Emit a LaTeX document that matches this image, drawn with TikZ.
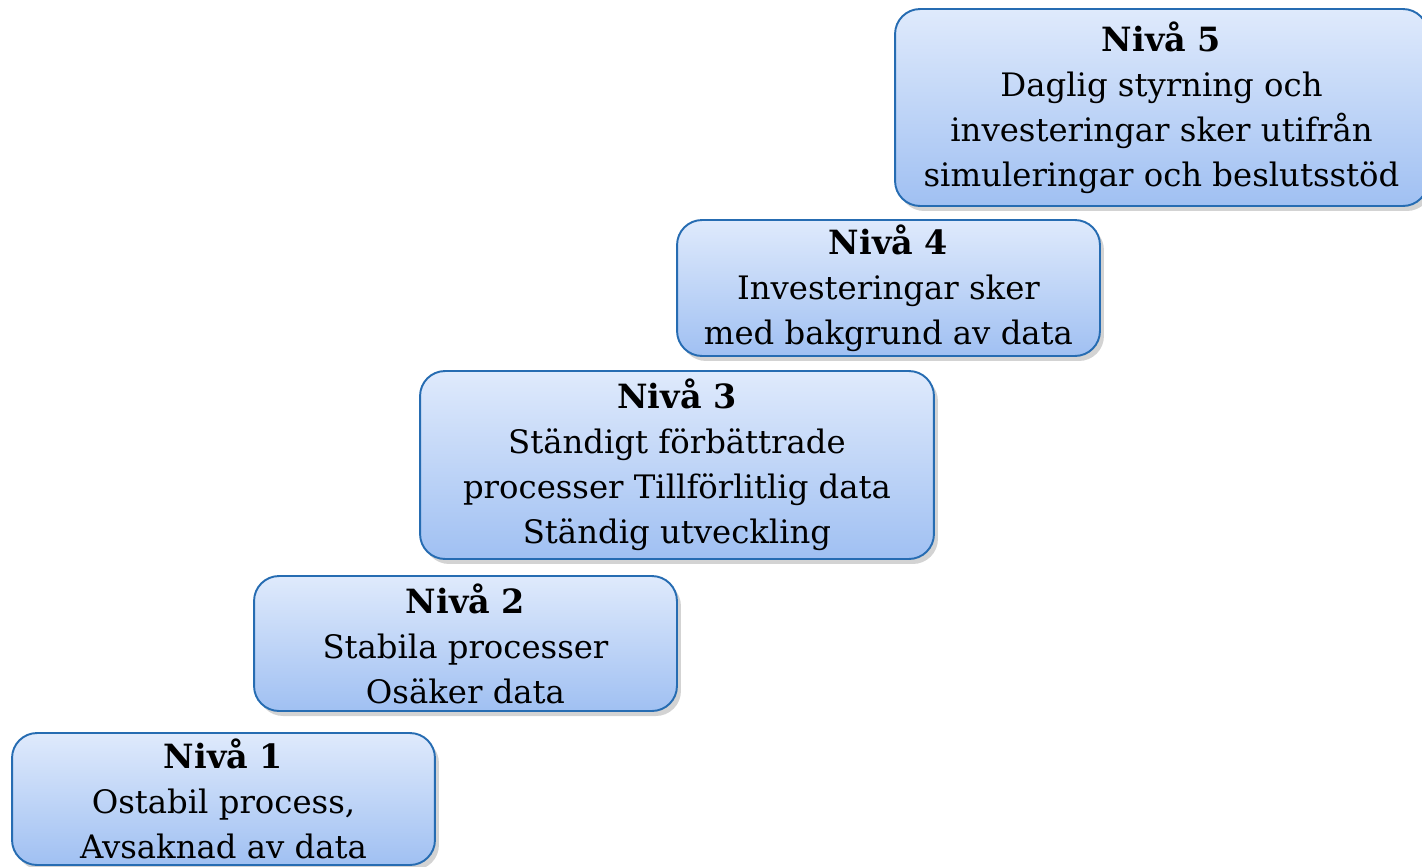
\documentclass[tikz,border=0pt]{standalone}
\usepackage{fontspec}
\setmainfont{DejaVu Serif}
\usetikzlibrary{shadows}
\definecolor{stegtopp}{RGB}{223,234,252}
\definecolor{stegbotten}{RGB}{160,192,242}
\definecolor{stegkant}{RGB}{38,108,178}
\tikzset{
  steg/.style={draw=stegkant, line width=1.1pt, rounded corners=0.5cm,
    top color=stegtopp, bottom color=stegbotten, align=center, inner sep=0pt,
    font=\fontsize{18.4}{25.6}\selectfont,
    drop shadow={opacity=0.35, shadow xshift=0.08cm, shadow yshift=-0.1cm}}
}
\newcommand{\niva}[1]{{\fontsize{19}{25.6}\selectfont\bfseries Nivå #1}}

\begin{document}
\begin{tikzpicture}[x=0.02cm,y=-0.02cm]
    \useasboundingbox (0,0) rectangle (1422,866);
    \node (niva1) [steg, minimum width=8.46cm, minimum height=2.64cm] at (223.5,799)
      {\niva{1}\\Ostabil process,\\Avsaknad av data};
    \node (niva2) [steg, minimum width=8.46cm, minimum height=2.7cm] at (465.5,643.5)
      {\niva{2}\\Stabila processer\\Osäker data};
    \node (niva3) [steg, minimum width=10.28cm, minimum height=3.76cm] at (677,465)
      {\niva{3}\\Ständigt förbättrade\\processer Tillförlitlig data\\Ständig utveckling};
    \node (niva4) [steg, minimum width=8.46cm, minimum height=2.72cm] at (888.5,288)
      {\niva{4}\\Investeringar sker\\med bakgrund av data};
    \node (niva5) [steg, minimum width=10.66cm, minimum height=3.94cm] at (1161.5,107.5)
      {\niva{5}\\Daglig styrning och\\investeringar sker utifrån\\simuleringar och beslutsstöd};
\end{tikzpicture}
\end{document}
